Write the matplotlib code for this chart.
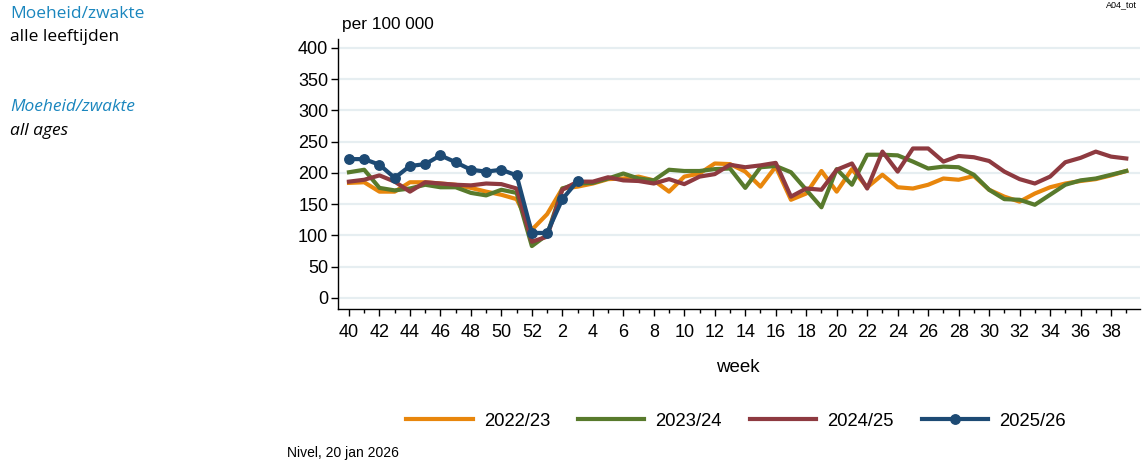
import matplotlib
matplotlib.use("Agg")
import matplotlib.pyplot as plt
from matplotlib.lines import Line2D

# weken: 40..52 en daarna 1..39
weken = list(range(40, 53)) + list(range(1, 40))

s2022 = [184, 185, 170, 170, 185, 185, 183, 181, 176, 170, 165, 158, 109, 134, 175, 178,
         183, 190, 191, 194, 188, 170, 194, 199, 215, 214, 202, 178, 210, 157, 167, 203,
         170, 206, 177, 197, 177, 175, 181, 191, 189, 195, 173, 162, 154, 167, 177, 183,
         187, 190, 196, 203]
s2023 = [201, 205, 176, 172, 175, 181, 177, 177, 168, 164, 173, 168, 83, 101, 175, 183,
         184, 191, 199, 191, 188, 205, 203, 203, 206, 207, 176, 209, 211, 201, 173, 145,
         206, 181, 229, 229, 228, 218, 207, 210, 209, 197, 173, 158, 157, 149, 165, 181,
         188, 191, 197, 203]
s2024 = [186, 189, 196, 186, 170, 185, 183, 181, 180, 183, 182, 175, 90, 98, 173, 186,
         186, 193, 188, 187, 183, 190, 182, 194, 198, 213, 209, 212, 216, 162, 175, 173,
         205, 215, 175, 234, 202, 239, 239, 218, 227, 225, 219, 202, 190, 183, 194, 217,
         224, 234, 226, 223]
s2025 = [222, 222, 213, 192, 211, 214, 228, 217, 205, 202, 205, 196, 104, 104, 158, 187]

seizoenen = ["2022/23", "2023/24", "2024/25", "2025/26"]
kleuren = ["#E8860C", "#587A2C", "#8E3A40", "#1D4A74"]

fig = plt.figure(figsize=(11.46, 4.69), dpi=100)
ax = fig.add_axes([338 / 1146, 1 - 309 / 469, 802 / 1146, 270 / 469])

x = list(range(len(weken)))
lw = 3.0
ax.plot(x, s2022, color=kleuren[0], lw=lw, zorder=3)
ax.plot(x, s2023, color=kleuren[1], lw=lw, zorder=3)
ax.plot(x, s2024, color=kleuren[2], lw=lw, zorder=3)
ax.plot(x[:len(s2025)], s2025, color=kleuren[3], lw=lw, marker="o", ms=6.8, zorder=4)

ax.set_xlim(-0.72, 51.9)
ax.set_ylim(-17.6, 414)
ax.set_yticks(range(0, 401, 50))
ax.yaxis.grid(True, color="#E6EEF1", lw=1.6)
ax.set_axisbelow(True)

ax.set_xticks(x[::2])
ax.set_xticklabels([str(w) for w in weken[::2]])
ax.set_xticks(x[1::2], minor=True)
ax.tick_params(axis="x", which="major", length=5, width=1, labelsize=13, pad=6)
ax.tick_params(axis="x", which="minor", length=3, width=1)
ax.tick_params(axis="y", length=5, width=1, labelsize=13, pad=2)
for lab in ax.get_xticklabels() + ax.get_yticklabels():
    lab.set_family("Liberation Sans")

for k in ["top", "right"]:
    ax.spines[k].set_visible(False)
ax.spines["left"].set_linewidth(1)
ax.spines["bottom"].set_linewidth(1)

fig.text(738 / 1146, 1 - 367 / 469, "week", ha="center", va="center",
         fontsize=13.5, family="Liberation Sans")
fig.text(342 / 1146, 1 - 24 / 469, "per 100 000", ha="left", va="center",
         fontsize=12.4, family="Liberation Sans")
fig.text(1137 / 1146, 1 - 5 / 469, "A04_tot", ha="right", va="center",
         fontsize=6.5, family="Liberation Sans")
fig.text(287 / 1146, 1 - 453 / 469, "Nivel, 20 jan 2026", ha="left", va="center",
         fontsize=10, family="Liberation Sans")

# titels links
fig.text(10 / 1146, 1 - 14 / 469, "Moeheid/zwakte", color="#1A86BE",
         fontsize=12.5, family="Open Sans", va="center")
fig.text(10 / 1146, 1 - 37 / 469, "alle leeftijden", color="black",
         fontsize=12.5, family="Open Sans", va="center")
fig.text(10 / 1146, 1 - 107 / 469, "Moeheid/zwakte", color="#1A86BE",
         fontsize=12.5, family="Open Sans", style="italic", va="center")
fig.text(10 / 1146, 1 - 131 / 469, "all ages", color="black",
         fontsize=12.5, family="Open Sans", style="italic", va="center")

handles = [Line2D([], [], color=kleuren[0], lw=lw),
           Line2D([], [], color=kleuren[1], lw=lw),
           Line2D([], [], color=kleuren[2], lw=lw),
           Line2D([], [], color=kleuren[3], lw=lw, marker="o", ms=6.8)]
fig.legend(handles, seizoenen, loc="center", bbox_to_anchor=(736 / 1146, 1 - 421 / 469),
           ncol=4, frameon=False, handlelength=3.6, columnspacing=1.5, handletextpad=0.6,
           prop={"family": "Liberation Sans", "size": 13.3})

fig.savefig("out.png", dpi=100)
